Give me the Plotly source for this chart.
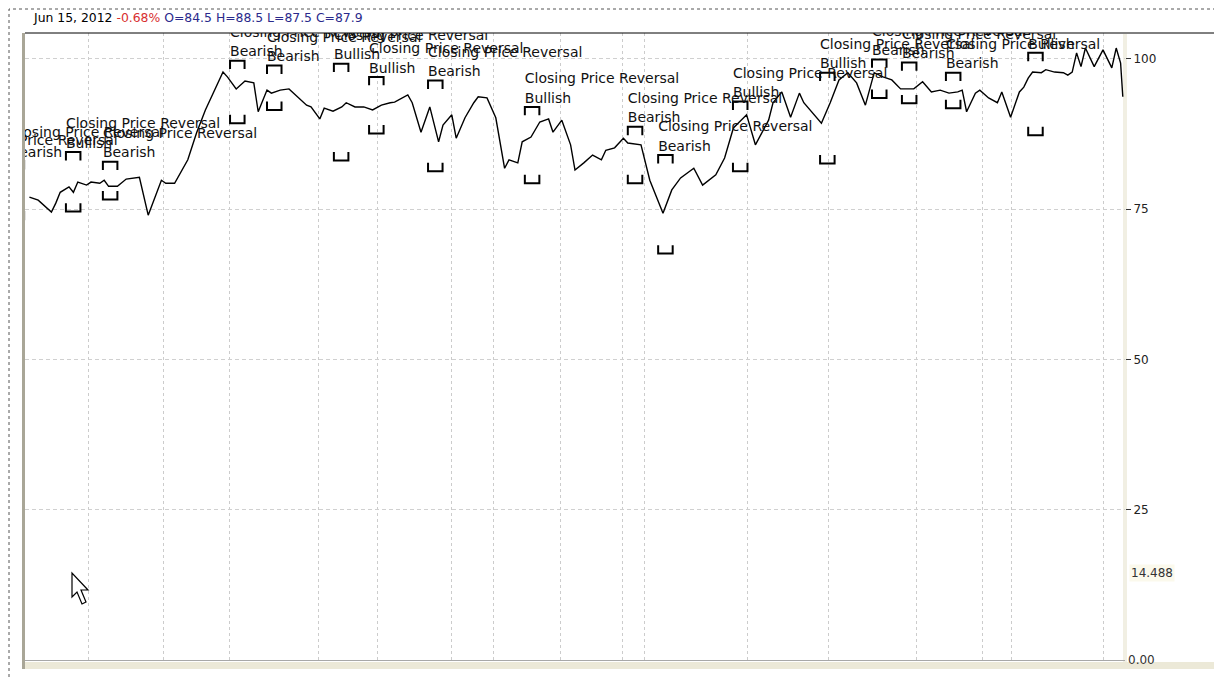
import plotly.graph_objects as go

# Closing prices, by trading day index.
days = [1, 3, 6, 7, 8, 10, 11, 12, 14, 15, 17, 18, 19, 21, 23, 25, 26, 28, 31, 32,
        34, 37, 39, 41, 43, 45, 46, 48, 50, 52, 53, 55, 56, 58, 60, 62, 64, 65, 67, 68,
        70, 72, 73, 75, 77, 79, 81, 83, 84, 87, 88, 90, 92, 94, 95, 97, 98, 100, 102, 103,
        105, 107, 109, 110, 112, 113, 115, 117, 119, 120, 122, 124, 125, 127, 129, 131, 132, 134, 136, 137,
        140, 142, 145, 147, 149, 152, 154, 157, 159, 161, 164, 166, 169, 170, 172, 174, 176, 177, 181, 183,
        185, 187, 189, 191, 193, 195, 197, 199, 202, 204, 206, 208, 210, 212, 213, 214, 216, 217, 219, 221,
        222, 224, 226, 227, 228, 229, 231, 232, 234, 236, 237, 238, 239, 240, 241, 243, 245, 247, 248, 249,
        249.5]
close = [77.0, 76.5, 74.5, 76.0, 77.8, 78.7, 77.8, 79.5, 79.0, 79.5, 79.3, 79.8, 78.8, 78.8, 80.0, 80.2, 80.3, 74.0, 79.8, 79.3,
         79.3, 83.2, 87.7, 91.5, 94.8, 97.8, 97.0, 95.0, 96.3, 96.0, 91.2, 94.8, 94.3, 94.8, 95.0, 93.7, 92.3, 92.0, 90.0, 91.8,
         91.3, 92.0, 92.7, 92.0, 92.0, 91.5, 92.3, 92.7, 92.8, 94.0, 92.7, 87.8, 92.0, 86.2, 89.0, 90.7, 86.8, 90.2, 92.7, 93.7,
         93.5, 90.2, 81.8, 83.2, 82.7, 86.2, 87.0, 89.5, 90.0, 87.8, 89.8, 85.7, 81.5, 82.7, 84.0, 83.2, 84.8, 85.2, 86.8, 86.0,
         85.7, 79.8, 74.3, 78.2, 80.2, 81.8, 79.0, 80.7, 83.5, 88.5, 90.7, 85.7, 89.8, 92.7, 94.5, 90.3, 94.3, 92.7, 89.3, 92.7,
         96.5, 97.7, 96.0, 92.3, 97.7, 97.0, 96.5, 95.0, 95.0, 96.2, 94.5, 94.8, 94.3, 94.5, 94.8, 91.2, 94.3, 94.8, 93.5, 92.7,
         94.5, 90.3, 94.5, 95.3, 96.8, 97.8, 97.7, 98.2, 97.8, 97.7, 97.3, 97.8, 101.0, 98.7, 101.8, 98.7, 101.5, 98.5, 101.8, 99.3,
         93.7]

# Closing Price Reversal signals: day, upper bracket level, lower bracket level, direction
sig_day = [-14, -3.5, 9.3, 17.7, 46.6, 55.0, 70.2, 78.2, 91.6, 113.6, 137.0, 143.9, 160.9, 180.7, 192.5, 199.3, 209.3, 228.0]
sig_hi = [81.0, 82.3, 83.8, 82.2, 99.0, 98.2, 98.5, 96.3, 95.7, 91.3, 88.0, 83.3, 92.2, 97.0, 99.2, 98.7, 97.0, 100.3]
sig_lo = [74.0, 74.0, 75.3, 77.3, 90.0, 92.2, 83.8, 88.3, 82.0, 80.0, 80.0, 68.3, 82.0, 83.3, 94.2, 93.3, 92.5, 88.0]
sig_dir = ["Bearish", "Bearish", "Bullish", "Bearish", "Bearish", "Bearish", "Bullish", "Bullish", "Bearish",
           "Bullish", "Bearish", "Bearish", "Bullish", "Bullish", "Bearish", "Bearish", "Bearish", "Bullish"]

y_ticks = [25, 50, 75, 100]
grid_days = [14.5, 31.4, 46.4, 66.6, 80, 97, 106.4, 121.8, 135.7, 140.9, 164.1, 182.5, 202.5, 217.5, 224.3, 245]
cursor_value = 14.488

FONT = "DejaVu Sans"
OFF = 8                      # page body margin
L, R, T, B = 25, 1125, 33, 660  # plot area in page pixels
W, H = 1222 - OFF, 678 - OFF


def px(x):
    return (x - L) / (R - L)


def py(y):
    return (B - y) / (B - T)


fig = go.Figure()

fig.add_trace(go.Scatter(x=days, y=close, mode="lines",
                         line=dict(color="black", width=1.4), hoverinfo="skip"))

# brackets above and below each signal bar
bw, bh = 3.3, 0.7
top_x, top_y, bot_x, bot_y = [], [], [], []
for d, hi, lo in zip(sig_day, sig_hi, sig_lo):
    top_x += [d, d, d + bw, d + bw, None]
    top_y += [hi - bh, hi + bh, hi + bh, hi - bh, None]
    bot_x += [d, d, d + bw, d + bw, None]
    bot_y += [lo + bh, lo - bh, lo - bh, lo + bh, None]
fig.add_trace(go.Scatter(x=top_x, y=top_y, mode="lines", line=dict(color="black", width=2),
                         hoverinfo="skip"))
fig.add_trace(go.Scatter(x=bot_x, y=bot_y, mode="lines", line=dict(color="black", width=2),
                         hoverinfo="skip"))

# signal labels
fig.add_trace(go.Scatter(x=sig_day, y=[h + 5.2 for h in sig_hi], mode="text",
                         text=["Closing Price Reversal"] * len(sig_day), textposition="middle right",
                         textfont=dict(family=FONT, size=14, color="#111"), cliponaxis=True,
                         hoverinfo="skip"))
fig.add_trace(go.Scatter(x=sig_day, y=[h + 2.0 for h in sig_hi], mode="text",
                         text=sig_dir, textposition="middle right",
                         textfont=dict(family=FONT, size=14, color="#111"), cliponaxis=True,
                         hoverinfo="skip"))

shapes = [
    # outer dotted focus frame
    dict(type="rect", xref="paper", yref="paper", x0=px(9), x1=px(1218), y0=py(700), y1=py(9),
         line=dict(color="#555", width=1, dash="dot"), layer="below"),
    # white margin left of the chart window, hides labels that run off the left edge
    dict(type="rect", xref="paper", yref="paper", x0=px(10), x1=px(22), y0=py(669), y1=py(33),
         fillcolor="white", line_width=0, layer="above"),
    # window borders
    dict(type="rect", xref="paper", yref="paper", x0=px(22), x1=px(25), y0=py(669), y1=py(33),
         fillcolor="#a9a697", line_width=0, layer="above"),
    dict(type="rect", xref="paper", yref="paper", x0=px(22), x1=px(1218), y0=py(669), y1=py(662),
         fillcolor="#ece9d8", line_width=0, layer="below"),
    dict(type="rect", xref="paper", yref="paper", x0=px(1123), x1=px(1127), y0=py(662), y1=py(34),
         fillcolor="#f1efe3", line_width=0, layer="below"),
    dict(type="rect", xref="paper", yref="paper", x0=px(1214), x1=px(1218), y0=py(669), y1=py(10),
         fillcolor="#ece9d8", line_width=0, layer="below"),
    # header separator
    dict(type="line", xref="paper", yref="paper", x0=px(25), x1=px(1216), y0=py(33), y1=py(33),
         line=dict(color="black", width=1)),
    # mouse pointer
    dict(type="path", xref="paper", yref="paper",
         path="M {} {} L {} {} L {} {} L {} {} L {} {} L {} {} L {} {} Z".format(
             px(72), py(573), px(72), py(597), px(77), py(592), px(82), py(604),
             px(86), py(602), px(81), py(590), px(88), py(590)),
         fillcolor="white", line=dict(color="black", width=1.2)),
]

annotations = [
    dict(xref="paper", yref="paper", x=px(31), y=py(18), xanchor="left", yanchor="middle",
         showarrow=False, font=dict(family=FONT, size=12.4, color="black"),
         text="Jun 15, 2012 <span style='color:#d83030'>-0.68%</span> "
              "<span style='color:#2a2a8c'>O=84.5 H=88.5 L=87.5 C=87.9</span>"),
    dict(xref="paper", yref="y", x=px(1129), y=cursor_value, xanchor="left", yanchor="middle",
         showarrow=False, text=f"{cursor_value:.3f}", bgcolor="#fbf9ec",
         font=dict(family=FONT, size=12, color="#333")),
    dict(xref="paper", yref="y", x=px(1126), y=0, xanchor="left", yanchor="middle",
         showarrow=False, text="0.00", font=dict(family=FONT, size=12, color="#333")),
]

fig.update_layout(
    width=W, height=H,
    margin=dict(l=L - OFF, r=W - (R - OFF), t=T - OFF, b=H - (B - OFF)),
    paper_bgcolor="white", plot_bgcolor="white",
    showlegend=False,
    shapes=shapes, annotations=annotations,
    xaxis=dict(range=[0, 250], tickvals=grid_days, showticklabels=False, ticks="",
               showgrid=True, gridcolor="#cccccc", griddash="3px,3px", gridwidth=1,
               zeroline=False, showline=True, linecolor="#a8a8a8", linewidth=1),
    yaxis=dict(range=[0, 104.3], side="right", tickvals=y_ticks, ticks="outside", ticklen=5,
               tickcolor="#333", tickfont=dict(family=FONT, size=12, color="#222"),
               showgrid=True, gridcolor="#d0d0d0", griddash="4px,3px", gridwidth=1,
               zeroline=False, showline=False),
)

fig.write_html("out.html")
